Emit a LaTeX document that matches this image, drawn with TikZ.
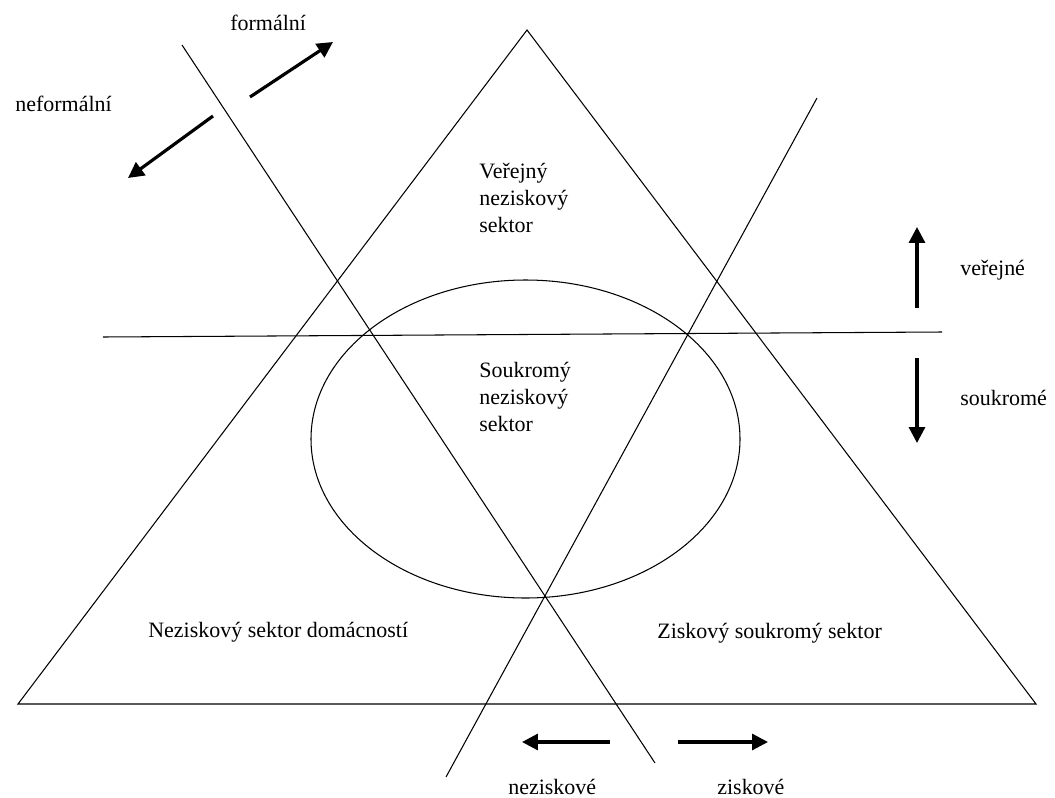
\documentclass[tikz,border=0pt]{standalone}
\usepackage{fontspec}
\setmainfont{Liberation Serif}
\usetikzlibrary{arrows.meta}

\begin{document}
\begin{tikzpicture}[x=0.02cm,y=-0.02cm,
  tenka/.style={line width=0.6pt},
  sipka/.style={-{Triangle[length=9pt,width=9pt]},line width=1.8pt},
  popis/.style={anchor=base west,inner sep=0pt,font=\fontsize{12.5}{15.3}\selectfont},
  blok/.style={anchor=north west,inner sep=0pt,align=left,font=\fontsize{12.5}{15.3}\selectfont}]
  \useasboundingbox (0,0) rectangle (1055,798);
  % trojúhelník
  \coordinate (vrchol) at (527,30);
  \coordinate (levy) at (18,704);
  \coordinate (pravy) at (1036,704);
  \draw[tenka] (vrchol) -- (levy) -- (pravy) -- cycle;
  % přímky
  \draw[tenka] (103,337) -- (942,332);
  \draw[tenka] (182,45) -- (655,763);
  \draw[tenka] (446,777) -- (817,98);
  % elipsa
  \draw[tenka] (525.5,439) ellipse [x radius=214.5, y radius=159];
  % sektory
  \node[blok] (verejny) at (479,163) {Veřejný\\neziskový\\sektor};
  \node[blok] (soukromy) at (479,362) {Soukromý\\neziskový\\sektor};
  \node[popis] (domacnosti) at (148,637) {Neziskový sektor domácností};
  \node[popis] (ziskovy) at (657,638) {Ziskový soukromý sektor};
  % šipky a popisky
  \node[popis] (formalni) at (230,30) {formální};
  \node[popis] (neformalni) at (15,111) {neformální};
  \draw[sipka] (250,97) -- (333,42);
  \draw[sipka] (213,116) -- (128,178);
  \node[popis] (verejne) at (960,275) {veřejné};
  \node[popis] (soukrome) at (960,405) {soukromé};
  \draw[sipka] (917,308) -- (917,227);
  \draw[sipka] (917,358) -- (917,443);
  \node[popis] (neziskove) at (508,794) {neziskové};
  \node[popis] (ziskove) at (717,794) {ziskové};
  \draw[sipka] (610,742) -- (522,742);
  \draw[sipka] (678,742) -- (768,742);
\end{tikzpicture}
\end{document}
